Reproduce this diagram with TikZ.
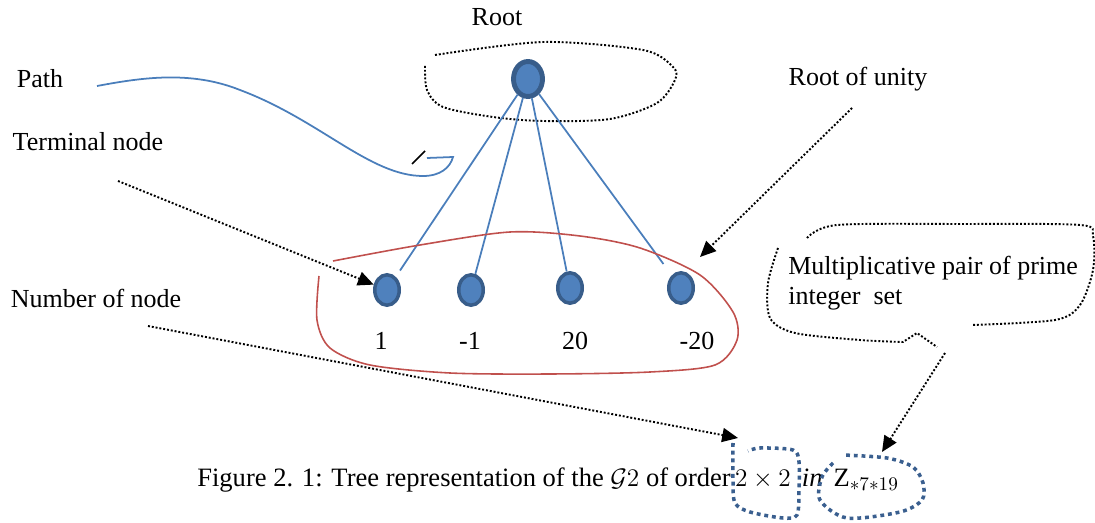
\documentclass[tikz,border=0pt]{standalone}
\usepackage{fontspec}
\setmainfont{Liberation Serif}
\usepackage{xcolor}
\usetikzlibrary{shapes,arrows.meta,positioning,calc}

\definecolor{nodefill}{HTML}{4F81BD}
\definecolor{nodeedge}{HTML}{385D8A}
\definecolor{edgeblue}{HTML}{4A7EBB}
\definecolor{loopred}{HTML}{C0504D}
\definecolor{boxblue}{HTML}{3A5F8F}

\tikzset{
  vertex/.style={ellipse, fill=nodefill, draw=nodeedge, line width=2pt,
    minimum width=0.49cm, minimum height=0.61cm, inner sep=0pt},
  rootvertex/.style={vertex, line width=2.8pt, minimum width=0.58cm, minimum height=0.7cm},
  annot/.style={font=\fontsize{14.8}{17}\selectfont, inner sep=0pt},
  branch/.style={draw=edgeblue, line width=1pt},
  dotarrow/.style={black, line width=1.1pt, dash pattern=on 1.1pt off 1.1pt,
    -{Triangle[length=9pt,width=8pt]}},
  dotloop/.style={black, line width=1.1pt, dash pattern=on 1.1pt off 1.1pt},
  dotbox/.style={boxblue, line width=2pt, dash pattern=on 2.2pt off 2.2pt}
}

\begin{document}
\begin{tikzpicture}[x=0.02cm, y=-0.02cm]
    \useasboundingbox (0,0) rectangle (1095,523);

    % Root and its dotted ring
    \node[annot] (rootlbl) at (497,17) {Root};
    \draw[dotloop] plot[smooth] coordinates {(435,55) (543,42) (643,50) (673,67) (675,80)
      (657,103) (610,119) (543,121) (493,117) (443,107) (427,90) (425,65)};
    \node[rootvertex] (root) at (528,79) {};

    % Terminal nodes
    \node[vertex] (n1) at (387,290) {};
    \node[vertex] (n2) at (471,290) {};
    \node[vertex] (n3) at (570,288) {};
    \node[vertex] (n4) at (681,288) {};

    % Branches
    \draw[branch, shorten >=0.15cm] (root) -- (n1);
    \draw[branch] (root) -- (n2);
    \draw[branch] (root) -- (n3);
    \draw[branch, shorten >=0.28cm] (root) -- (n4);

    % Values under the nodes
    \node[annot] (v1) at (381,341) {1};
    \node[annot] (v2) at (470,341) {-1};
    \node[annot] (v3) at (575,341) {20};
    \node[annot] (v4) at (697,341) {-20};

    % Red ring round the terminal nodes
    \draw[loopred, line width=0.9pt] plot[smooth] coordinates {(333,261) (420,245) (510,232)
      (580,236) (640,248) (700,275) (733,312) (737,340) (715,365) (650,372) (550,374)
      (450,373) (370,365) (330,348) (317,320) (319,276)};

    % Path label and its curve
    \node[annot] (path) at (40,79) {Path};
    \coordinate (pathfrom) at (97,86);
    \draw[edgeblue, line width=1pt] (pathfrom) .. controls (140,78) and (190,70) .. (240,90)
      .. controls (320,120) and (370,176) .. (423,176)
      .. controls (440,176) and (450,168) .. (453,157) -- (427,158);
    \draw[black, line width=1pt] (412,164) -- (425,151);

    % Other labels
    \node[annot] (terminal) at (88,142) {Terminal node};
    \node[annot] (unity) at (858,79) {Root of unity};
    \node[annot] (number) at (96,298) {Number of node};
    \node[annot, anchor=west, align=left] (mult) at (788,283)
      {Multiplicative pair of prime\\integer\ \ set};

    % Dotted bubble round the set label
    \draw[dotloop] plot[smooth] coordinates {(807,238) (837,225) (960,224) (1080,225)
      (1093,236) (1093,270) (1080,305) (1055,320) (972,325)};
    \draw[dotloop] plot[smooth] coordinates {(778,248) (768,283) (770,318) (795,333)
      (860,340) (903,342)} -- (917,333) -- (937,347);

    % Caption
    \node[annot, font=\fontsize{15.1}{17}\selectfont, anchor=west] (caption) at (197,480)
      {Figure 2. 1: Tree representation of the $\mathcal{G}2$ of order\,$2\times 2$\,
       $\mathit{in}$\, Z$_{*7*19}$};

    % Dotted blue marks in the caption
    \draw[dotbox] plot[smooth] coordinates {(733,443) (733,480) (735,503) (750,512)
      (783,518) (797,515) (799,490) (799,462) (793,450) (760,448) (748,451)};
    \draw[dotbox] plot[smooth] coordinates {(833,463) (822,477) (820,500) (847,518)
      (900,512) (922,500) (923,483) (913,467) (887,458) (843,455)};

    % Dotted pointers
    \coordinate (tnfrom) at (118,181);
    \draw[dotarrow] (tnfrom) -- (n1);
    \coordinate (rufrom) at (852,108);
    \coordinate (rutip) at (700,257);
    \draw[dotarrow] (rufrom) -- (rutip);
    \coordinate (nnfrom) at (148,326);
    \coordinate (nntip) at (738,438);
    \draw[dotarrow] (nnfrom) -- (nntip);
    \coordinate (mpfrom) at (945,353);
    \coordinate (mptip) at (882,452);
    \draw[dotarrow] (mpfrom) -- (mptip);
\end{tikzpicture}
\end{document}
